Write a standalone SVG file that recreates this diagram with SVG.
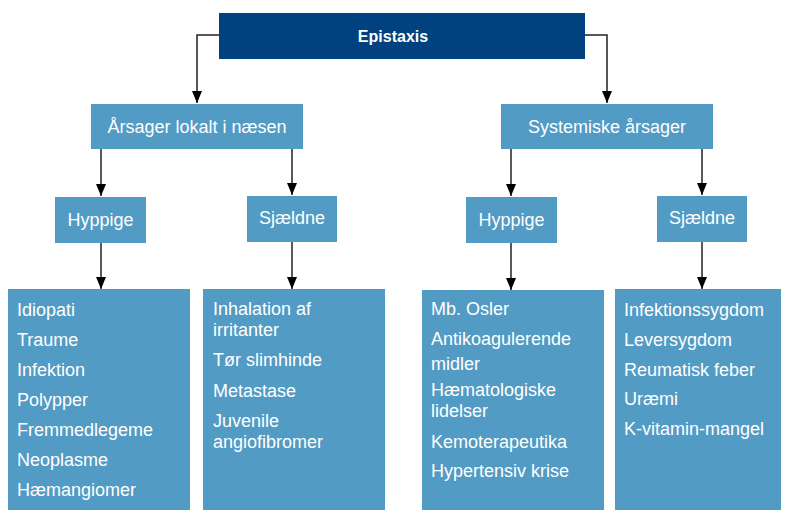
<svg xmlns="http://www.w3.org/2000/svg" width="790" height="513" viewBox="0 0 790 513">
<style>
.top{fill:#00417f}
.box{fill:#529bc4}
text{font-family:"Liberation Sans",Arial,sans-serif;fill:#fff;font-size:18px}
.t{font-weight:bold;font-size:16px}
.c{text-anchor:middle}
.edge{fill:none;stroke:#222;stroke-width:1.5}
</style>
<defs>
<marker id="ah" viewBox="0 0 12 10" refX="12" refY="5" markerWidth="12" markerHeight="10" markerUnits="userSpaceOnUse" orient="auto">
<path d="M0,0 L12,5 L0,10 Z" fill="#000"/>
</marker>
</defs>
<g id="connectors">
<path class="edge" d="M219,35 H197 V103" marker-end="url(#ah)"/>
<path class="edge" d="M585,35 H607 V103" marker-end="url(#ah)"/>
<path class="edge" d="M101,149 V196" marker-end="url(#ah)"/>
<path class="edge" d="M292,149 V195" marker-end="url(#ah)"/>
<path class="edge" d="M511,149 V196" marker-end="url(#ah)"/>
<path class="edge" d="M702,149 V195" marker-end="url(#ah)"/>
<path class="edge" d="M101,243 V289" marker-end="url(#ah)"/>
<path class="edge" d="M292,242 V289" marker-end="url(#ah)"/>
<path class="edge" d="M511,243 V290" marker-end="url(#ah)"/>
<path class="edge" d="M702,242 V289" marker-end="url(#ah)"/>
</g>
<g id="epistaxis">
<rect class="top" x="219" y="13" width="366" height="46"/>
<text class="t c" x="393" y="42">Epistaxis</text>
</g>
<g id="lokalt">
<rect class="box" x="91" y="104" width="212" height="45"/>
<text class="c" x="197" y="133">Årsager lokalt i næsen</text>
</g>
<g id="systemiske">
<rect class="box" x="501" y="104" width="212" height="45"/>
<text class="c" x="607" y="133">Systemiske årsager</text>
</g>
<g id="hyppige-lokalt">
<rect class="box" x="55" y="197" width="91" height="46"/>
<text class="c" x="100.5" y="226">Hyppige</text>
</g>
<g id="sjaeldne-lokalt">
<rect class="box" x="247" y="196" width="90" height="46"/>
<text class="c" x="292" y="224">Sjældne</text>
</g>
<g id="hyppige-system">
<rect class="box" x="466" y="197" width="91" height="46"/>
<text class="c" x="511.5" y="226">Hyppige</text>
</g>
<g id="sjaeldne-system">
<rect class="box" x="657" y="196" width="90" height="46"/>
<text class="c" x="702" y="224">Sjældne</text>
</g>
<g id="list-hyppige-lokalt">
<rect class="box" x="8" y="289" width="182" height="221"/>
<text x="17" y="316">Idiopati</text>
<text x="17" y="346">Traume</text>
<text x="17" y="376">Infektion</text>
<text x="17" y="406">Polypper</text>
<text x="17" y="436">Fremmedlegeme</text>
<text x="17" y="466">Neoplasme</text>
<text x="17" y="496">Hæmangiomer</text>
</g>
<g id="list-sjaeldne-lokalt">
<rect class="box" x="203" y="289" width="182" height="221"/>
<text x="213" y="315">Inhalation af</text>
<text x="213" y="336">irritanter</text>
<text x="213" y="366">Tør slimhinde</text>
<text x="213" y="397">Metastase</text>
<text x="213" y="427">Juvenile</text>
<text x="213" y="448">angiofibromer</text>
</g>
<g id="list-hyppige-system">
<rect class="box" x="422" y="290" width="182" height="220"/>
<text x="431" y="315">Mb. Osler</text>
<text x="431" y="345">Antikoagulerende</text>
<text x="431" y="370">midler</text>
<text x="431" y="396">Hæmatologiske</text>
<text x="431" y="417">lidelser</text>
<text x="431" y="448">Kemoterapeutika</text>
<text x="431" y="477">Hypertensiv krise</text>
</g>
<g id="list-sjaeldne-system">
<rect class="box" x="615" y="289" width="166" height="221"/>
<text x="624" y="316">Infektionssygdom</text>
<text x="624" y="346">Leversygdom</text>
<text x="624" y="376">Reumatisk feber</text>
<text x="624" y="405">Uræmi</text>
<text x="624" y="435">K-vitamin-mangel</text>
</g>
</svg>
